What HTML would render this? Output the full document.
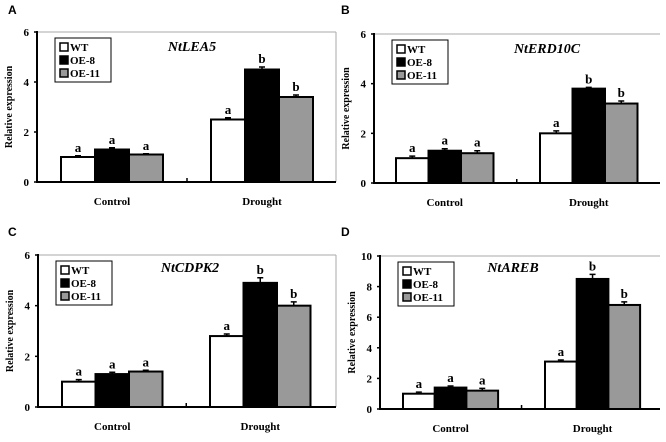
<!DOCTYPE html>
<html><head><meta charset="utf-8"><style>
body{margin:0;background:#fff}
svg{display:block}
text{font-family:"Liberation Serif",serif;font-weight:bold}
</style></head><body>
<svg id="c" width="666" height="442"></svg>
<script>
const categories=["Control","Drought"];
const seriesNames=["WT","OE-8","OE-11"];
const genes=["NtLEA5","NtERD10C","NtCDPK2","NtAREB"];
const panelLetters=["A","B","C","D"];
const yMaxes=[6,6,6,10];
const yTicksA=[0,2,4,6];
const yTicksD=[0,2,4,6,8,10];
const valsA=[[1.0,1.3,1.1],[2.5,4.5,3.4]];
const errA=[[0.05,0.07,0.03],[0.07,0.1,0.08]];
const sigA=[["a","a","a"],["a","b","b"]];
const valsB=[[1.0,1.3,1.2],[2.0,3.8,3.2]];
const errB=[[0.08,0.08,0.1],[0.1,0.05,0.1]];
const valsC=[[1.0,1.3,1.4],[2.8,4.9,4.0]];
const errC=[[0.08,0.07,0.05],[0.08,0.2,0.15]];
const valsD=[[1.0,1.4,1.2],[3.1,8.5,6.8]];
const errD=[[0.1,0.1,0.15],[0.1,0.3,0.2]];
const sig=[["a","a","a"],["a","b","b"]];
const fills=["#fff","#000","#999"];

const svg=document.getElementById('c');
const NS="http://www.w3.org/2000/svg";
function mk(tag,attrs,parent,txt){const e=document.createElementNS(NS,tag);for(const k in attrs)e.setAttribute(k,attrs[k]);if(txt!==undefined)e.textContent=txt;parent.appendChild(e);return e;}

const layouts=[
 {ax:37,top:32,zero:182,right:336,border:true,starts:[61,211],bw:34,title:[192,51],letter:[8,14]},
 {ax:374,top:34,zero:183,right:660,border:false,starts:[396,540],bw:32.5,title:[547,53],letter:[341,14]},
 {ax:38,top:255,zero:407,right:336,border:true,starts:[62,210],bw:33.5,title:[190,272],letter:[8,236]},
 {ax:380,top:256,zero:409,right:660,border:false,starts:[403,545],bw:31.7,title:[513,272],letter:[341,236]}
];
const allVals=[valsA,valsB,valsC,valsD];
const allErr=[errA,errB,errC,errD];

layouts.forEach((L,p)=>{
 const g=mk('g',{},svg);
 
 
 const ymax=yMaxes[p];
 const y=v=>L.zero-(v/ymax)*(L.zero-L.top);
 const t=mk('text',{x:L.letter[0],y:L.letter[1],'font-size':12,style:'font-family:"Liberation Sans",sans-serif'},g,panelLetters[p]);
 
 
 // frame
 const fr=mk('line',{x1:L.ax,y1:L.top,x2:L.right,y2:L.top,stroke:'#aaa','stroke-width':1},g);
 
 
 if(L.border){const rb=mk('line',{x1:L.right,y1:L.top,x2:L.right,y2:L.zero,stroke:'#aaa','stroke-width':1},g);
  
  }
 // bars
 const vals=allVals[p],err=allErr[p];
 categories.forEach((c,ci)=>{
  seriesNames.forEach((s,si)=>{
   const x=L.starts[ci]+si*L.bw,v=vals[ci][si],e=err[ci][si];
   const r=mk('rect',{x:x,y:y(v),width:L.bw,height:L.zero-y(v),fill:fills[si],stroke:'#000','stroke-width':2},g);
   
   
   const cx=x+L.bw/2;
   const eb=mk('path',{d:`M${cx},${y(v)} V${y(v+e)} M${cx-3},${y(v+e)} H${cx+3}`,stroke:'#000','stroke-width':1.5,fill:'none'},g);
   
   
   const lt=mk('text',{x:cx,y:y(v+e)-4,'font-size':13,'text-anchor':'middle'},g,sig[ci][si]);
   
   
  });
  const cl=mk('text',{x:L.starts[ci]+1.5*L.bw,y:L.zero+23,'font-size':11,'text-anchor':'middle'},g,c);
  
  
 });
 // axes
 const xa=mk('line',{x1:L.ax,y1:L.zero,x2:L.right,y2:L.zero,stroke:'#000','stroke-width':2},g);
 
 
 const mid=(L.starts[0]+3*L.bw+L.starts[1])/2;
 mk('line',{x1:mid,y1:L.zero,x2:mid,y2:L.zero-4,stroke:'#000','stroke-width':1.5},g);
 const ya=mk('line',{x1:L.ax,y1:L.top-1,x2:L.ax,y2:L.zero+1,stroke:'#000','stroke-width':2},g);
 
 
 const ticks=p===3?yTicksD:yTicksA;
 ticks.forEach(tv=>{
  mk('line',{x1:L.ax-3,y1:y(tv),x2:L.ax,y2:y(tv),stroke:'#000','stroke-width':1.5},g);
  const tl=mk('text',{x:L.ax-8,y:y(tv)+4,'font-size':11,'text-anchor':'end'},g,tv);
  
  
 });
 const yt=mk('text',{x:0,y:0,'font-size':10,'text-anchor':'middle',transform:`translate(${L.ax-25},${(L.top+L.zero)/2}) rotate(-90)`},g,'Relative expression');
 
 
 const ti=mk('text',{x:L.title[0],y:L.title[1],'font-size':14,'text-anchor':'middle','font-style':'italic'},g,genes[p]);
 
 
 // legend
 const lx=L.ax+18,ly=L.top+6;
 const lb=mk('rect',{x:lx,y:ly,width:56,height:44,fill:'#fff',stroke:'#000','stroke-width':1},g);
 
 
 seriesNames.forEach((s,si)=>{
  const yy=ly+9+si*13;
  const sw=mk('rect',{x:lx+5,y:yy-4,width:8,height:8,fill:fills[si],stroke:'#000','stroke-width':1.5},g);
  
  
  const le=mk('text',{x:lx+15,y:yy+4,'font-size':11},g,s);
  
  
 });
});
</script>
</body></html>
